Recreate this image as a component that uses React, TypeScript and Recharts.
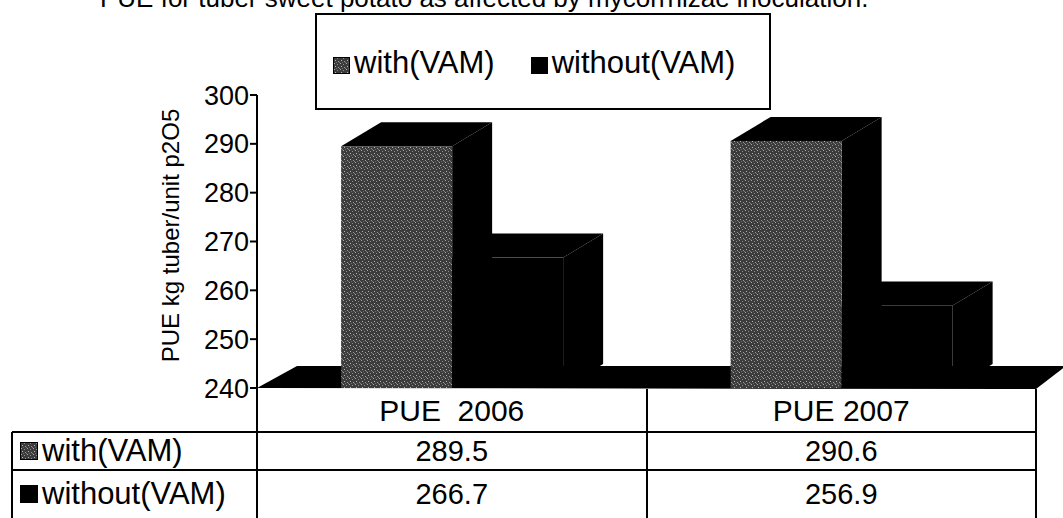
import React from "react";
import { BarChart, Bar, XAxis, YAxis, ReferenceArea } from "recharts";

// data
const categories = ["PUE  2006", "PUE 2007"];
const withVam = [289.5, 290.6];
const withoutVam = [266.7, 256.9];
const yTicks = [240, 250, 260, 270, 280, 290, 300];
const seriesNames = ["with(VAM)", "without(VAM)"];

const data = categories.map((name, i) => ({
  name,
  withVam: withVam[i],
  withoutVam: withoutVam[i],
}));

// layout
const W = 1063;
const H = 518;
const M = { top: 95, right: 27, bottom: 130, left: 157 };
const AXIS_W = 100;
const PLOT_L = M.left + AXIS_W;
const PLOT_R = W - M.right;
const PLOT_B = H - M.bottom;
const DX = 40;
const DY = 24;
const FONT = "'Liberation Sans', Arial, sans-serif";

const Bar3D = (props: any) => {
  const { x, y, width, height, front } = props;
  if (!width || height == null) return null;
  return (
    <g>
      <polygon
        points={`${x},${y} ${x + DX},${y - DY} ${x + width + DX},${y - DY} ${x + width},${y}`}
        fill="#000"
      />
      <polygon
        points={`${x + width},${y} ${x + width + DX},${y - DY} ${x + width + DX},${y + height - DY} ${x + width},${y + height}`}
        fill="#000"
      />
      <rect x={x} y={y} width={width} height={height} fill={front} />
    </g>
  );
};

const Floor = (props: any) => {
  const { x, y, width, height } = props;
  const b = y + height;
  return (
    <polygon
      points={`${x},${b} ${x + DX},${b - DY + 2} ${x + width + DX - 10},${b - DY + 2} ${x + width},${b + 1}`}
      fill="#000"
    />
  );
};

const Key = ({ i, size = 17 }: { i: number; size?: number }) => (
  <svg width={size} height={size} style={{ marginRight: 4, verticalAlign: "-1px" }}>
    <rect x={0.5} y={0.5} width={size - 1} height={size - 1} fill={i === 0 ? "url(#speckle)" : "#000"} stroke="#000" />
  </svg>
);

const App = () => {
  const colW = (PLOT_R - PLOT_L) / categories.length;
  const rowTop = [PLOT_B + 1, 432, 470, 518];
  const cell: React.CSSProperties = {
    position: "absolute",
    display: "flex",
    alignItems: "center",
    justifyContent: "center",
    fontSize: 29,
    whiteSpace: "pre",
  };
  return (
    <div
      style={{
        position: "absolute",
        left: 0,
        top: 0,
        width: W,
        height: H,
        overflow: "hidden",
        background: "#fff",
        fontFamily: FONT,
        color: "#000",
      }}
    >
      <svg width={0} height={0} style={{ position: "absolute" }}>
        <defs>
          <pattern id="speckle" width={6} height={6} patternUnits="userSpaceOnUse">
            <rect width={6} height={6} fill="#3c3c3c" />
            <rect x={1} y={0} width={1} height={1} fill="#a8a8a8" />
            <rect x={4} y={1} width={1} height={1} fill="#8c8c8c" />
            <rect x={2} y={3} width={1} height={1} fill="#b4b4b4" />
            <rect x={5} y={4} width={1} height={1} fill="#9a9a9a" />
            <rect x={0} y={5} width={1} height={1} fill="#7a7a7a" />
            <rect x={3} y={5} width={1} height={1} fill="#6a6a6a" />
          </pattern>
        </defs>
      </svg>

      <div
        style={{
          position: "absolute",
          left: 100,
          top: -15,
          fontSize: 26,
          lineHeight: 1,
          whiteSpace: "nowrap",
        }}
      >
        PUE for tuber sweet potato as affected by mycorrhizae inoculation.
      </div>

      <BarChart
        width={W}
        height={H}
        data={data}
        margin={M}
        barCategoryGap="21.6%"
        barGap={0}
        style={{ position: "absolute", left: 0, top: 0 }}
      >
        <ReferenceArea y1={240} y2={300} shape={<Floor />} fill="#000" />
        <XAxis dataKey="name" hide />
        <YAxis
          width={AXIS_W}
          domain={[240, 300]}
          ticks={yTicks}
          interval={0}
          allowDataOverflow
          axisLine={{ stroke: "#000", strokeWidth: 2 }}
          tickLine={{ stroke: "#000", strokeWidth: 2 }}
          tickSize={7}
          tickMargin={1}
          tick={{ fill: "#000", fontSize: 27, fontFamily: FONT }}
          label={{
            content: (p: any) => {
              const vb = p.viewBox;
              const cx = vb.x + 13;
              const cy = vb.y + vb.height / 2 - 6;
              return (
                <text
                  x={cx}
                  y={cy}
                  transform={`rotate(-90 ${cx} ${cy})`}
                  textAnchor="middle"
                  dominantBaseline="central"
                  fontSize={24}
                  fontFamily={FONT}
                  fill="#000"
                >
                  PUE kg tuber/unit p2O5
                </text>
              );
            },
          }}
        />
        <Bar
          dataKey="withVam"
          name={seriesNames[0]}
          isAnimationActive={false}
          shape={<Bar3D front="url(#speckle)" />}
        />
        <Bar
          dataKey="withoutVam"
          name={seriesNames[1]}
          isAnimationActive={false}
          shape={<Bar3D front="#000" />}
        />
      </BarChart>

      {/* legend */}
      <div
        style={{
          position: "absolute",
          left: 315,
          top: 13,
          width: 456,
          height: 97,
          border: "2px solid #000",
          display: "flex",
          alignItems: "center",
          paddingLeft: 16,
          paddingTop: 2,
          boxSizing: "border-box",
          fontSize: 31,
          whiteSpace: "nowrap",
        }}
      >
        <span style={{ marginRight: 36 }}>
          <Key i={0} />
          {seriesNames[0]}
        </span>
        <span>
          <Key i={1} />
          {seriesNames[1]}
        </span>
      </div>

      {/* data table */}
      <div style={{ position: "absolute", left: PLOT_L - 1, top: PLOT_B, width: 2, height: H - PLOT_B, background: "#000" }} />
      {categories.map((c, i) => (
        <div
          key={c}
          style={{ position: "absolute", left: PLOT_L + colW * (i + 1) - 1, top: PLOT_B + 1, width: 2, height: H - PLOT_B, background: "#000" }}
        />
      ))}
      {[1, 2].map((r) => (
        <div
          key={r}
          style={{ position: "absolute", left: 12, top: rowTop[r] - 1, width: PLOT_R - 12, height: 2, background: "#000" }}
        />
      ))}
      <div style={{ position: "absolute", left: 11, top: rowTop[1], width: 2, height: H - rowTop[1], background: "#000" }} />
      {categories.map((c, i) => (
        <div
          key={"h" + c}
          style={{ ...cell, fontSize: 30, left: PLOT_L + colW * i, top: rowTop[0], width: colW, height: rowTop[1] - rowTop[0] }}
        >
          {c}
        </div>
      ))}
      {[withVam, withoutVam].map((vals, r) => (
        <React.Fragment key={r}>
          <div
            style={{ ...cell, justifyContent: "flex-start", left: 20, top: rowTop[r + 1], height: rowTop[r + 2] - rowTop[r + 1], fontSize: 31 }}
          >
            <Key i={r} size={18} />
            {seriesNames[r]}
          </div>
          {vals.map((v, i) => (
            <div
              key={i}
              style={{ ...cell, left: PLOT_L + colW * i, top: rowTop[r + 1], width: colW, height: rowTop[r + 2] - rowTop[r + 1] }}
            >
              {v.toFixed(1)}
            </div>
          ))}
        </React.Fragment>
      ))}
    </div>
  );
};

export default App;
